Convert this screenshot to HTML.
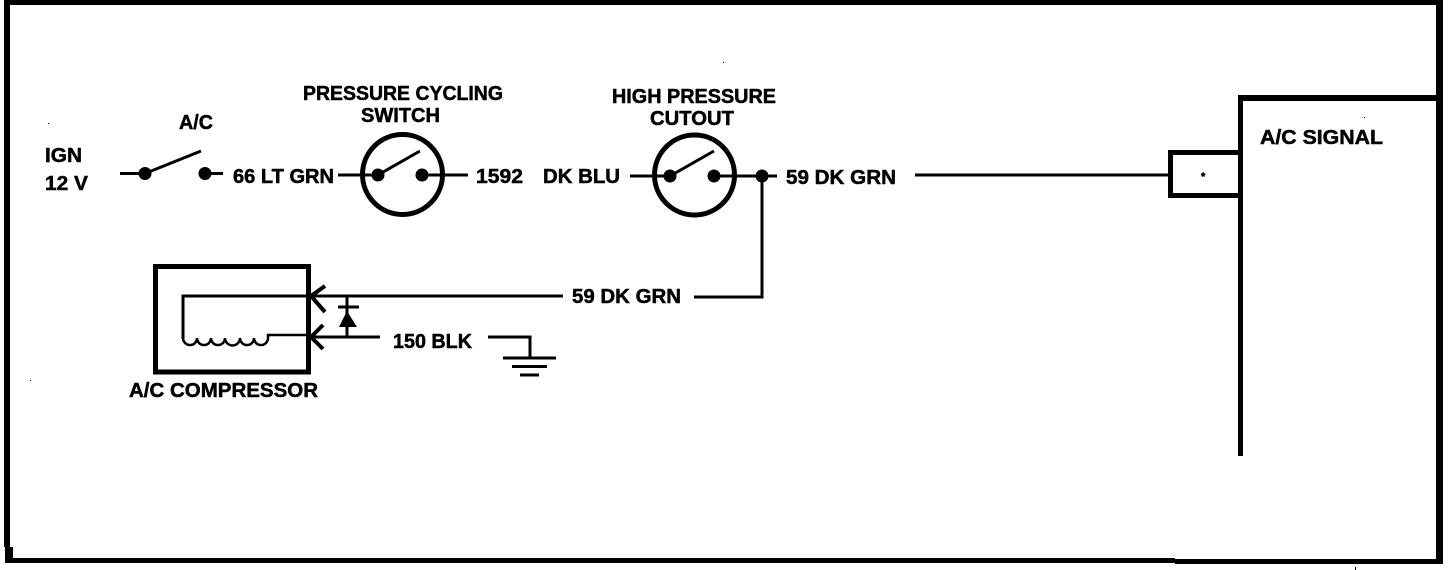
<!DOCTYPE html>
<html><head><meta charset="utf-8"><style>
html,body{margin:0;padding:0;background:#fff;width:1456px;height:570px;overflow:hidden}
svg{display:block}
text{font-family:"Liberation Sans",sans-serif;font-weight:bold;font-size:20px;fill:#000;stroke:#000;stroke-width:.5px}
</style></head><body>
<svg width="1456" height="570" viewBox="0 0 1456 570" xmlns="http://www.w3.org/2000/svg">
<rect width="1456" height="570" fill="#fff"/>
<g fill="#000">
<rect x="4" y="0" width="1439" height="5"/>
<rect x="4" y="0" width="6" height="547"/>
<rect x="5" y="547" width="8" height="16"/>
<rect x="5" y="558" width="1170" height="5"/>
<rect x="1175" y="559" width="268" height="5"/>
<rect x="1436" y="0" width="7" height="564"/>
<rect x="1238" y="95" width="205" height="6"/>
<rect x="1238" y="95" width="5" height="361"/>
<rect x="1168" y="150" width="72" height="5"/>
<rect x="1168" y="193" width="72" height="5"/>
<rect x="1168" y="150" width="5" height="48"/>
<circle cx="145" cy="173.500" r="6.500"/><circle cx="205" cy="173.500" r="6.500"/>
<circle cx="378" cy="175" r="6.500"/><circle cx="422" cy="175" r="6.500"/>
<circle cx="670" cy="176" r="6.500"/><circle cx="714" cy="176" r="6.500"/>
<circle cx="762" cy="176" r="6.500"/>
<polygon points="347,311 357,327 339,327"/>
<rect x="48" y="123" width="1" height="1"/><rect x="723" y="62" width="1" height="1"/><rect x="1364" y="117" width="1" height="1"/><rect x="30" y="380" width="1" height="1"/><rect x="1355" y="567" width="1" height="3"/>
</g>
<g fill="none" stroke="#000" stroke-width="3">
<path d="M120 173.500H145L201 151"/>
<path d="M205 173.500H223"/>
<path d="M338 175H378L420 151"/>
<path d="M422 175H468"/>
<circle cx="402.500" cy="174.500" r="40" stroke-width="5"/>
<path d="M630 176H670L714 151"/>
<path d="M714 176H777"/>
<circle cx="694.500" cy="175" r="40" stroke-width="5"/>
<path d="M762 176V297H694"/>
<path d="M915 175H1170"/>
<rect x="155.500" y="266.500" width="153" height="105.500" stroke-width="5"/>
<path d="M563 296H183V339"/>
<path d="M183 338A7 7 0 0 0 197 338A7 7 0 0 0 211 338A7 7 0 0 0 225 338A7 7 0 0 0 240 338A7 7 0 0 0 254 338A7 7 0 0 0 268 338V335H311" stroke-width="2.500"/>
<path d="M380 337H311"/>
<path d="M325 286L311 296L325 312" stroke-width="4"/>
<path d="M323 325L311 337L323 349" stroke-width="4"/>
<path d="M347 296V337"/>
<path d="M338 307H359"/>
<path d="M488 337H530V358"/>
<path d="M503 358H556M512 366.500H547M520 375H539"/>
</g>
<text x="303" y="100" textLength="200" lengthAdjust="spacingAndGlyphs">PRESSURE CYCLING</text>
<text x="361" y="122" textLength="79" lengthAdjust="spacingAndGlyphs">SWITCH</text>
<text x="179" y="129" textLength="34" lengthAdjust="spacingAndGlyphs">A/C</text>
<text x="45" y="162" textLength="37" lengthAdjust="spacingAndGlyphs">IGN</text>
<text x="45" y="190" textLength="43" lengthAdjust="spacingAndGlyphs">12 V</text>
<text x="233" y="183" textLength="101" lengthAdjust="spacingAndGlyphs">66 LT GRN</text>
<text x="476" y="183" textLength="47" lengthAdjust="spacingAndGlyphs">1592</text>
<text x="543" y="183" textLength="77" lengthAdjust="spacingAndGlyphs">DK BLU</text>
<text x="612" y="103" textLength="164" lengthAdjust="spacingAndGlyphs">HIGH PRESSURE</text>
<text x="650" y="125" textLength="84" lengthAdjust="spacingAndGlyphs">CUTOUT</text>
<text x="786" y="184" textLength="110" lengthAdjust="spacingAndGlyphs">59 DK GRN</text>
<text x="572" y="303" textLength="109" lengthAdjust="spacingAndGlyphs">59 DK GRN</text>
<text x="393" y="348" textLength="79" lengthAdjust="spacingAndGlyphs">150 BLK</text>
<text x="129" y="397" textLength="189" lengthAdjust="spacingAndGlyphs">A/C COMPRESSOR</text>
<text x="1260" y="144" textLength="123" lengthAdjust="spacingAndGlyphs">A/C SIGNAL</text>
<text x="1201" y="180" style="font-size:11px">*</text>
</svg>
</body></html>
